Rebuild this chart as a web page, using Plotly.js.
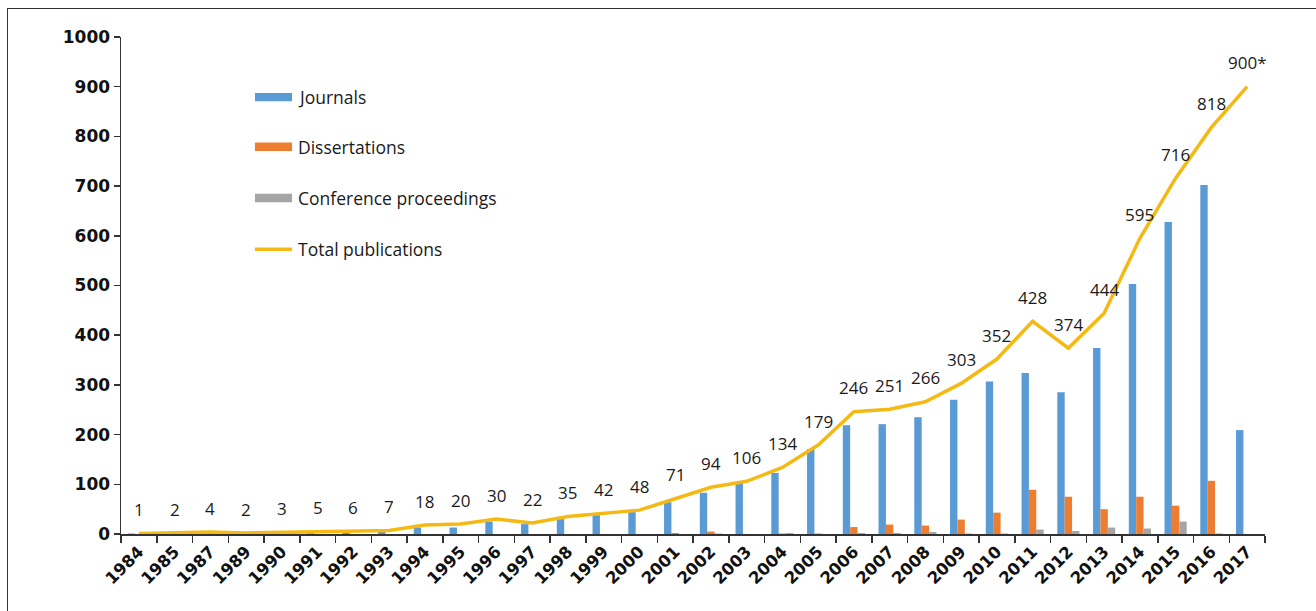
<!DOCTYPE html>
<html>
<head>
<meta charset="utf-8">
<script src="https://cdn.plot.ly/plotly-3.0.1.min.js"></script>
<style>
  html, body { margin: 0; padding: 0; background: #fff; }
  #wrap { position: relative; width: 1316px; height: 611px; overflow: hidden; }
  #chart { width: 1316px; height: 611px; }
  #frame { position: absolute; left: 7px; top: 8px; width: 1400px; height: 700px;
           border-left: 1.5px solid #333; border-top: 1.5px solid #333; pointer-events: none; }
</style>
</head>
<body>
<div id="wrap">
  <div id="chart"></div>
  <div id="frame"></div>
</div>
<script>
const years = ['1984','1985','1987','1989','1990','1991','1992','1993','1994','1995','1996','1997','1998','1999','2000','2001','2002','2003','2004','2005','2006','2007','2008','2009','2010','2011','2012','2013','2014','2015','2016','2017'];
const journals = [1,2,4,2,3,5,6,7,13,13,25,20,30,38,44,64,83,103,123,171,219,221,235,270,307,324,285,374,503,628,702,209];
const dissertations = [0,0,0,0,0,0,0,0,0,0,0,0,0,0,0,2,5,0,1,1,14,19,17,29,43,89,75,50,75,57,107,0];
const conferences = [0,0,0,0,0,0,0,0,0,0,0,0,0,0,0,0,1,0,2,0,2,2,4,1,1,9,6,13,11,25,1,0];
const totals = [1,2,4,2,3,5,6,7,18,20,30,22,35,42,48,71,94,106,134,179,246,251,266,303,352,428,374,444,595,716,818,900];
const totalLabels = ['1','2','4','2','3','5','6','7','18','20','30','22','35','42','48','71','94','106','134','179','246','251','266','303','352','428','374','444','595','716','818','900*'];

const seriesNames = ['Journals','Dissertations','Conference proceedings','Total publications'];
const colors = ['#5B9BD5','#ED7D31','#A5A5A5','#F5B914'];

const traces = [
  {type:'bar', name:seriesNames[0], x:years, y:journals, marker:{color:colors[0]}},
  {type:'bar', name:seriesNames[1], x:years, y:dissertations, marker:{color:colors[1]}},
  {type:'bar', name:seriesNames[2], x:years, y:conferences, marker:{color:colors[2]}},
  {type:'scatter', mode:'lines', name:seriesNames[3], x:years, y:totals,
   line:{color:colors[3], width:3.5}}
];

// data labels: x given as category index on the category axis
const annotations = years.map((yr, i) => ({
  x: i, y: totals[i], xref:'x', yref:'y', text: totalLabels[i],
  showarrow:false, yshift: 24,
  font:{family:'Open Sans, Noto Sans, sans-serif', size:17, color:'#1a1a1a'}
}));

// manual legend (paper coords)
const legY = [0.879, 0.779, 0.676, 0.573];
const lx0 = 0.1171, lx1 = 0.1495, half = 0.0085;
const shapes = [];
for (let i = 0; i < 3; i++) {
  shapes.push({type:'rect', xref:'paper', yref:'paper', x0:lx0, x1:lx1,
    y0:legY[i]-half, y1:legY[i]+half, fillcolor:colors[i], line:{width:0}});
}
shapes.push({type:'line', xref:'paper', yref:'paper', x0:lx0, x1:lx1,
  y0:legY[3], y1:legY[3], line:{color:colors[3], width:3.5}});
for (let i = 0; i < 4; i++) {
  annotations.push({xref:'paper', yref:'paper', x:0.1529, y:legY[i], xanchor:'left', yanchor:'middle',
    text: seriesNames[i], showarrow:false,
    font:{family:'Open Sans, Noto Sans, sans-serif', size:17.5, color:'#1a1a1a'}});
}

const layout = {
  width:1316, height:611,
  margin:{l:121, r:51, t:37, b:77, pad:0},
  paper_bgcolor:'#fff', plot_bgcolor:'#fff',
  showlegend:false,
  barmode:'group', bargap:0.38, bargroupgap:0,
  xaxis:{type:'category', range:[-0.5, years.length-0.5], tickangle:-45, ticks:'outside', tickson:'boundaries', ticklen:7,
    tickcolor:'#333', tickwidth:1.5, showline:true, linecolor:'#333', linewidth:1.5,
    showgrid:false, zeroline:false,
    tickfont:{family:'DejaVu Sans, sans-serif', size:16.5, color:'#111', weight:'bold'}},
  yaxis:{range:[0,1000], dtick:100, ticks:'outside', ticklen:6, tickcolor:'#333', tickwidth:1.5,
    showline:true, linecolor:'#333', linewidth:1.5, showgrid:false, zeroline:false,
    tickfont:{family:'DejaVu Sans, sans-serif', size:17, color:'#111', weight:'bold'}},
  annotations: annotations,
  shapes: shapes
};

Plotly.newPlot('chart', traces, layout, {displayModeBar:false, staticPlot:true});
</script>
</body>
</html>
